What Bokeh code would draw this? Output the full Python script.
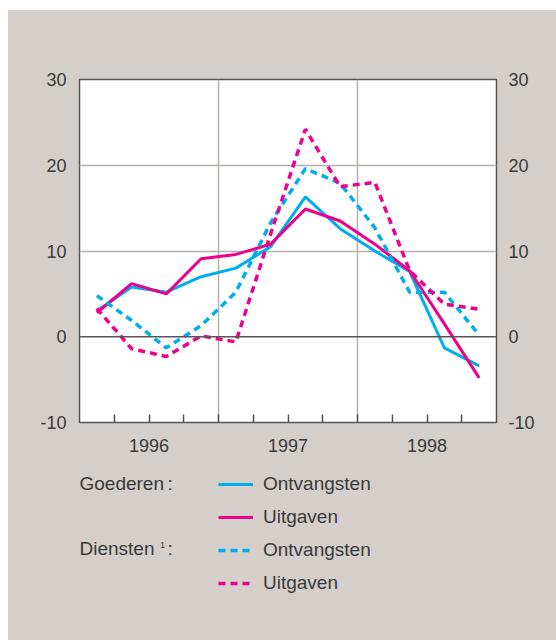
from bokeh.plotting import figure
from bokeh.layouts import column
from bokeh.models import (Range1d, FixedTicker, LinearAxis, Span, Legend, LegendItem, Label)
from bokeh.embed import file_html
from bokeh.resources import INLINE

# Quarterly data (quarter midpoints), 1996 Q1 .. 1998 Q4
quarters = [1996.125, 1996.375, 1996.625, 1996.875,
            1997.125, 1997.375, 1997.625, 1997.875,
            1998.125, 1998.375, 1998.625, 1998.875]
goederen_ontvangsten = [3.0, 5.8, 5.2, 7.0, 8.0, 10.5, 16.3, 12.6, 10.0, 7.6, -1.3, -3.4]
goederen_uitgaven = [2.8, 6.2, 5.0, 9.1, 9.6, 10.8, 14.9, 13.5, 10.8, 7.7, 1.5, -4.8]
diensten_ontvangsten = [4.8, 1.9, -1.3, 1.3, 5.2, 13.3, 19.6, 17.9, 12.7, 5.2, 5.2, 0.2]
diensten_uitgaven = [3.3, -1.4, -2.3, 0.1, -0.6, 12.0, 24.2, 17.5, 18.0, 7.7, 3.8, 3.2]

year_centers = [1996.5, 1997.5, 1998.5]
year_labels = ["1996", "1997", "1998"]
quarter_bounds = [1996.25, 1996.5, 1996.75, 1997.0, 1997.25, 1997.5, 1997.75,
                  1998.0, 1998.25, 1998.5, 1998.75]
year_bounds = [1997.0, 1998.0]
y_ticks = [-10, 0, 10, 20, 30]
y_labels = ["-10", "0", "10", "20", "30"]

CYAN = "#00aeef"
MAGENTA = "#ec008c"
BG = "#d4cfcb"
TXT = "#3a3a3a"
FONT = "Liberation Sans"
DARK = "#555555"
GRID = "#b8b1ab"

W = 548
H1 = 457
H2 = 173

p = figure(width=W, height=H1, output_backend="svg", toolbar_location=None,
           x_range=Range1d(1996, 1999), y_range=Range1d(-10, 30),
           min_border_left=71, min_border_right=60, min_border_top=69, min_border_bottom=45)
p.frame_align = False
p.border_fill_color = BG
p.background_fill_color = "white"
p.outline_line_color = DARK
p.outline_line_width = 1.5

# bottom axis
p.xaxis.ticker = FixedTicker(ticks=year_centers, minor_ticks=quarter_bounds)
p.xaxis.major_label_overrides = {c: l for c, l in zip(year_centers, year_labels)}
p.xaxis.major_tick_in = 0
p.xaxis.major_tick_out = 0
p.xaxis.minor_tick_in = 8
p.xaxis.minor_tick_out = 0
p.xaxis.minor_tick_line_color = DARK
p.xaxis.minor_tick_line_width = 1.5
p.xaxis.axis_line_color = None
p.xaxis.major_label_standoff = 16

# left axis
ylab = {t: l for t, l in zip(y_ticks, y_labels)}
p.yaxis.ticker = FixedTicker(ticks=y_ticks)
p.yaxis.major_label_overrides = ylab
p.yaxis.major_tick_in = 0
p.yaxis.major_tick_out = 0
p.yaxis.minor_tick_line_color = None
p.yaxis.axis_line_color = None
p.yaxis.major_label_standoff = 13

right = LinearAxis(ticker=FixedTicker(ticks=y_ticks), major_label_overrides=ylab,
                   major_tick_in=0, major_tick_out=0,
                   minor_tick_line_color=None, axis_line_color=None, major_label_standoff=12)
p.add_layout(right, "right")

for ax in [p.xaxis[0], p.yaxis[0], right]:
    ax.major_label_text_font = FONT
    ax.major_label_text_font_size = "18px"
    ax.major_label_text_color = TXT

p.xgrid.ticker = FixedTicker(ticks=year_bounds)
p.ygrid.ticker = FixedTicker(ticks=[10, 20])
p.xgrid.grid_line_color = GRID
p.ygrid.grid_line_color = GRID
p.xgrid.grid_line_width = 1.5
p.ygrid.grid_line_width = 1.5

p.add_layout(Span(location=0, dimension="width", line_color=DARK, line_width=1.5))

p.line(quarters, goederen_ontvangsten, line_color=CYAN, line_width=3)
p.line(quarters, goederen_uitgaven, line_color=MAGENTA, line_width=3)
p.line(quarters, diensten_ontvangsten, line_color=CYAN, line_width=3.5, line_dash="7 5")
p.line(quarters, diensten_uitgaven, line_color=MAGENTA, line_width=3.5, line_dash="7 5")

# legend panel
p2 = figure(width=W, height=H2, output_backend="svg", toolbar_location=None,
            x_range=Range1d(0, W), y_range=Range1d(0, H2),
            min_border_left=0, min_border_right=0, min_border_top=0, min_border_bottom=0,
            x_axis_type=None, y_axis_type=None)
p2.frame_align = False
p2.border_fill_color = BG
p2.background_fill_color = BG
p2.outline_line_color = None
p2.grid.visible = False

nan = float("nan")
s1 = p2.line(x=[nan], y=[nan], line_color=CYAN, line_width=3)
s2 = p2.line(x=[nan], y=[nan], line_color=MAGENTA, line_width=3)
s3 = p2.line(x=[nan], y=[nan], line_color=CYAN, line_width=3.5, line_dash="7 5")
s4 = p2.line(x=[nan], y=[nan], line_color=MAGENTA, line_width=3.5, line_dash="7 5")

legend = Legend(items=[LegendItem(label="Ontvangsten", renderers=[s1]),
                       LegendItem(label="Uitgaven", renderers=[s2]),
                       LegendItem(label="Ontvangsten", renderers=[s3]),
                       LegendItem(label="Uitgaven", renderers=[s4])],
                location=(210, 46), orientation="vertical",
                glyph_width=35, glyph_height=22, label_height=22, label_standoff=10,
                spacing=11, padding=0, margin=0,
                border_line_color=None, background_fill_alpha=0,
                label_text_font=FONT, label_text_font_size="19px", label_text_color=TXT)
p2.add_layout(legend, "center")

def lab(text, x, y, size="19px", baseline="middle"):
    p2.add_layout(Label(text=text, x=x, y=y, x_units="screen", y_units="screen",
                        text_font=FONT, text_font_size=size, text_color=TXT,
                        text_baseline=baseline, text_align="left"))

lab("Goederen", 71, 157)
lab(":", 159, 157)
lab("Diensten", 71, 92)
lab("1", 151.5, 99, size="9px", baseline="top")
lab(":", 159, 92)

layout = column(p, p2, spacing=0, margin=(10, 0, 0, 8), styles={"background-color": BG})
open("out.html", "w").write(file_html(layout, INLINE))
